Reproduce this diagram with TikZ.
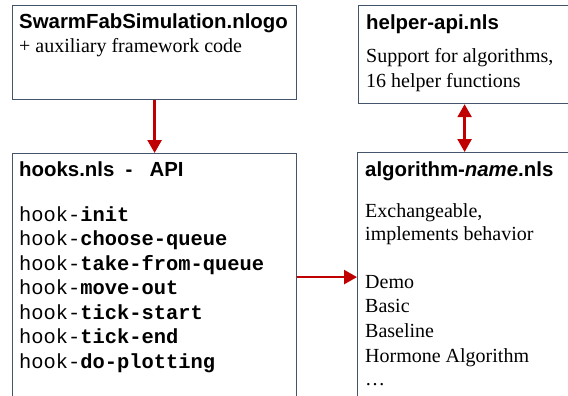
\documentclass[tikz,border=0pt]{standalone}
\usepackage{fontspec}
\setmainfont{Liberation Serif}
\setsansfont{Liberation Sans}
\setmonofont{Liberation Mono}
\usetikzlibrary{arrows.meta,positioning}
\definecolor{boxline}{RGB}{68,84,106}
\definecolor{arrowred}{RGB}{192,0,0}

\begin{document}
\begin{tikzpicture}[x=1pt,y=1pt]

        % Setup the styles for the boxes, texts and arrows
        \tikzset{file box/.style={rectangle,
                                  draw=boxline,
                                  line width=1.2pt,
                                  anchor=north west,
                                  inner sep=0pt},
                 title text/.style={anchor=base west, inner sep=0pt,
                                    font=\fontsize{20.4}{24}\selectfont\sffamily\bfseries},
                 body text/.style={anchor=base west, inner sep=0pt,
                                   font=\fontsize{20}{24}\selectfont\rmfamily},
                 hook text/.style={anchor=base west, inner sep=0pt,
                                   font=\fontsize{20.4}{24}\selectfont\ttfamily},
                 redtip/.tip={Triangle[width=14pt,length=13pt]},
                 link/.style={line width=2.5pt, draw=arrowred, -redtip}}

        \useasboundingbox (0,0) rectangle (568,-396);
        \clip (0,0) rectangle (568,-396);

        % Draw the boxes
        \node[file box, minimum width=284pt, minimum height=94pt]  at (12, -5)    (sim)    {};
        \node[file box, minimum width=212pt, minimum height=98pt]  at (358, -5)   (helper) {};
        \node[file box, minimum width=284pt, minimum height=247pt] at (12, -153)  (hooks)  {};
        \node[file box, minimum width=213pt, minimum height=248pt] at (357, -152) (algo)   {};

        % Texts of the boxes
        \node[title text] at (19, -29)   (simtitle)    {SwarmFabSimulation.nlogo};
        \node[body text]  at (19, -53)   (simbody)     {+ auxiliary framework code};

        \node[title text] at (366, -30)  (helpertitle) {helper-api.nls};
        \node[body text]  at (366, -63)  (helperone)   {Support for algorithms,};
        \node[body text]  at (366, -88)  (helpertwo)   {16 helper functions};

        \node[title text] at (19, -176)  (hookstitle)  {hooks.nls\ \ -\hspace{17pt}API};
        \foreach \hk [count=\i] in {init, choose-queue, take-from-queue, move-out,
                                    tick-start, tick-end, do-plotting}
            \node[hook text] at (19, {-221-24.5*(\i-1)}) (hook\i) {hook-\textbf{\hk}};

        \node[title text] at (365, -176) (algotitle)   {algorithm-\textit{name}.nls};
        \node[body text]  at (365, -217) (algoone)     {Exchangeable,};
        \node[body text]  at (365, -240) (algotwo)     {implements behavior};
        \foreach \alg/\yy [count=\i] in {Demo/288, Basic/312, Baseline/337,
                                         Hormone Algorithm/362, {\ldots}/385}
            \node[body text] at (365, -\yy) (alg\i) {\alg};

        % Connect the boxes with arrows
        \draw[link] (sim.south) -- (hooks.north);
        \draw[link, redtip-redtip] (helper.south) -- (helper.south |- algo.north);
        \draw[link] (hooks.east) -- (hooks.east -| algo.west);
\end{tikzpicture}
\end{document}
